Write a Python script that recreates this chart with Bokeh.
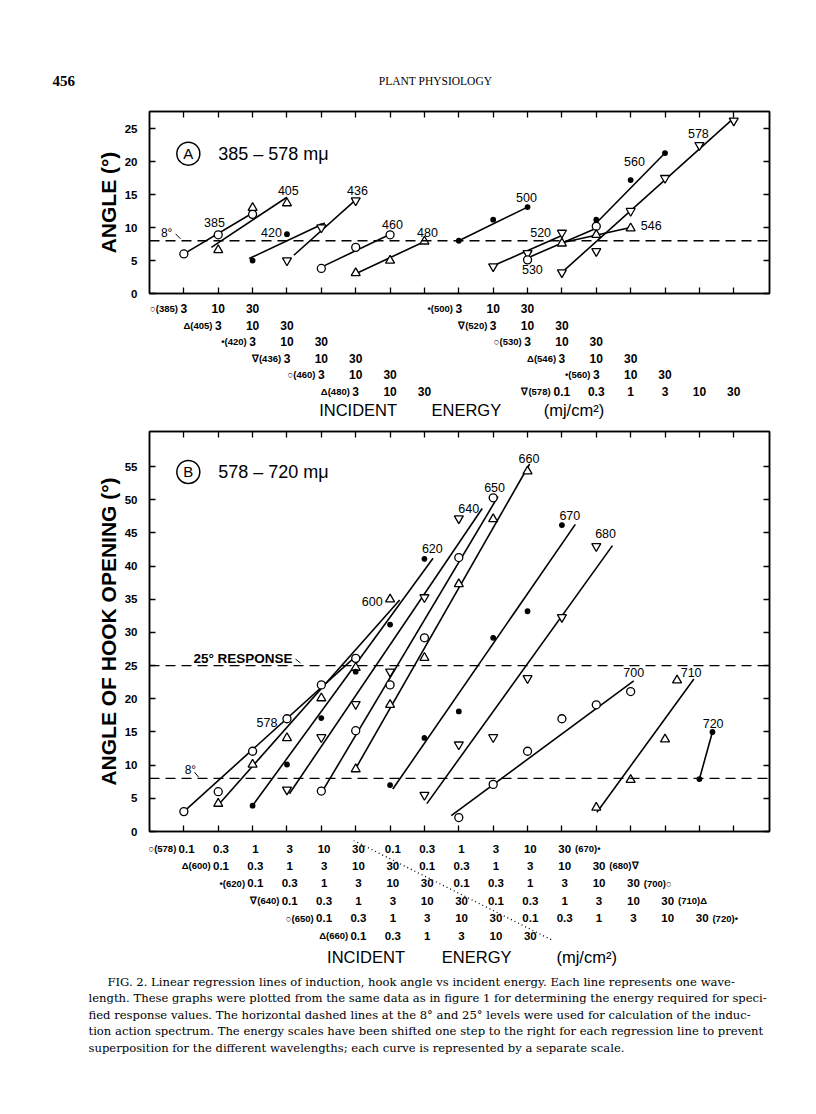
from bokeh.plotting import figure
from bokeh.models import Range1d, FixedTicker, LinearAxis, Span
from bokeh.layouts import column
from bokeh.embed import file_html
from bokeh.resources import INLINE
from bokeh.core.properties import value

SANS = "Liberation Sans"
SERIF = "DejaVu Serif"
INK = "black"

# ---------------- data ----------------
ENERGY_STEPS = ["0.1", "0.3", "1", "3", "10", "30"]
ENERGY_SHORT = ["3", "10", "30"]

# Panel A : 385-578 mμ   (x = position on the shifted energy scale, in scale steps)
A_WL = [385, 405, 420, 436, 460, 480, 500, 520, 530, 546, 560, 578]
A_MARK = ["o", "^", ".", "v", "o", "^", ".", "v", "o", "^", ".", "v"]
A_STEP = [[1, 2, 3], [2, 3, 4], [3, 4, 5], [4, 5, 6], [5, 6, 7], [6, 7, 8],
          [9, 10, 11], [10, 11, 12], [11, 13], [12, 13, 14], [13, 14, 15],
          [12, 13, 14, 15, 16, 17]]
A_ANGLE = [[6.0, 8.9, 12.0], [6.6, 13.0, 13.7], [5.0, 9.0, 10.2], [5.0, 10.0, 14.1],
           [3.8, 7.0, 8.9], [3.1, 5.0, 7.9], [8.0, 11.2, 13.1], [4.1, 6.1, 9.2],
           [5.1, 10.2], [7.6, 8.9, 9.9], [11.2, 17.2, 21.3],
           [3.2, 6.4, 12.5, 17.5, 22.5, 26.2]]
A_FIT_X0 = [1.0, 1.8, 2.9, 4.2, 5.0, 6.0, 9.0, 10.0, 11.0, 12.0, 13.0, 12.0]
A_FIT_Y0 = [6.0, 7.0, 5.3, 5.8, 4.0, 3.0, 8.0, 4.2, 5.4, 7.7, 10.7, 3.2]
A_FIT_X1 = [3.0, 4.0, 5.1, 6.0, 7.05, 8.05, 11.0, 12.0, 13.0, 14.0, 15.0, 17.0]
A_FIT_Y1 = [12.2, 14.6, 10.7, 14.2, 9.1, 8.0, 13.1, 8.8, 9.9, 10.0, 21.3, 26.6]
# energy scale rows under panel A
A_SCALE_SYM = ["○", "Δ", "•", "∇", "○", "Δ", "•", "∇", "○", "Δ", "•", "∇"]
A_SCALE_ROW = [0, 1, 2, 3, 4, 5, 0, 1, 2, 3, 4, 5]
A_SCALE_START = [1, 2, 3, 4, 5, 6, 9, 10, 11, 12, 13, 12]

# Panel B : 578-720 mμ
B_WL = [578, 600, 620, 640, 650, 660, 670, 680, 700, 710, 720]
B_MARK = ["o", "^", ".", "v", "o", "^", ".", "v", "o", "^", "."]
B_STEP = [[1, 2, 3, 4, 5, 6], [2, 3, 4, 5, 6, 7], [3, 4, 5, 6, 7, 8], [4, 5, 6, 7, 8, 9],
          [5, 6, 7, 8, 9, 10], [6, 7, 8, 9, 10, 11], [7, 8, 9, 10, 11, 12],
          [8, 9, 10, 11, 12, 13], [9, 10, 11, 12, 13, 14], [13, 14, 15, 15.35], [16, 16.38]]
B_ANGLE = [[3.0, 6.0, 12.1, 17.0, 22.1, 26.1], [4.2, 10.1, 14.1, 20.1, 24.7, 35.0],
           [3.9, 10.1, 17.1, 24.1, 31.2, 41.1], [6.3, 14.2, 19.2, 24.1, 35.3, 47.2],
           [6.1, 15.2, 22.1, 29.2, 41.3, 50.3], [9.4, 19.1, 26.2, 37.3, 47.1, 54.3],
           [7.0, 14.1, 18.1, 29.2, 33.2, 46.2], [5.5, 13.1, 14.2, 23.1, 32.3, 43.0],
           [2.1, 7.1, 12.1, 17.0, 19.1, 21.1], [3.6, 7.8, 13.9, 22.8], [7.9, 15.0]]
B_FIT_X0 = [1.0, 2.0, 3.0, 4.07, 5.08, 6.0, 7.08, 8.07, 8.78, 13.02, 16.0]
B_FIT_Y0 = [3.0, 4.0, 3.9, 5.7, 6.5, 9.5, 6.4, 4.2, 2.4, 2.9, 7.9]
B_FIT_X1 = [6.0, 7.28, 8.25, 9.68, 10.14, 11.06, 12.39, 13.47, 14.09, 15.84, 16.38]
B_FIT_Y1 = [26.4, 34.9, 41.2, 48.7, 50.5, 55.4, 46.3, 43.1, 22.7, 23.0, 15.0]
B_SCALE_SYM = ["○", "Δ", "•", "∇", "○", "Δ"]
B_SCALE_WL = [578, 600, 620, 640, 650, 660]
B_SCALE_START = [1, 2, 3, 4, 5, 6]
B_SCALE2_SYM = ["•", "∇", "○", "Δ", "•"]
B_SCALE2_WL = [670, 680, 700, 710, 720]

RESPONSE_LEVELS_A = [8]
RESPONSE_LEVELS_B = [8, 25]

CAPTION = [
    "FIG. 2. Linear regression lines of induction, hook angle vs incident energy. Each line represents one wave-",
    "length. These graphs were plotted from the same data as in figure 1 for determining the energy required for speci-",
    "fied response values. The horizontal dashed lines at the 8° and 25° levels were used for calculation of the induc-",
    "tion action spectrum. The energy scales have been shifted one step to the right for each regression line to prevent",
    "superposition for the different wavelengths; each curve is represented by a separate scale.",
]

# ---------------- layout constants ----------------
PAGE_W = 816
FRAME_L = 149
FRAME_W = 620
X_MAX = 18.04
PPU = FRAME_W / X_MAX
X_TICKS = list(range(1, 18))

A_LABEL_POS = {385: (1.89, 10.8), 405: (4.04, 15.6), 420: (3.55, 9.2), 436: (6.05, 15.6),
               460: (7.07, 10.5), 480: (8.09, 9.3), 500: (10.97, 14.6), 520: (11.38, 9.2),
               530: (11.14, 3.6), 546: (14.6, 10.3), 560: (14.11, 20.0), 578: (15.97, 24.3)}
B_LABEL_POS = {578: (3.42, 16.4), 600: (6.48, 34.6), 620: (8.23, 42.6), 640: (9.29, 48.7),
               650: (10.04, 51.9), 660: (11.04, 56.3), 670: (12.23, 47.6), 680: (13.27, 44.9),
               700: (14.09, 24.0), 710: (15.76, 23.9), 720: (16.4, 16.3)}

MARKERS = {"o": dict(marker="circle", size=8, fill_color="white"),
           "^": dict(marker="triangle", size=9, fill_color="white"),
           "v": dict(marker="inverted_triangle", size=9, fill_color="white"),
           ".": dict(marker="circle", size=4.5, fill_color="black")}


def txt(p, x, y, t, size, align="center", bold=False, font=SANS):
    p.text(x=x, y=y, text=t, text_font=value(font), text_font_size=size,
           text_font_style="bold" if bold else "normal", text_align=align,
           text_baseline="middle", text_color=INK)


def blank(height, xr, yr):
    p = figure(width=PAGE_W, height=height, x_range=xr, y_range=yr, min_border=0, title=None,
               x_axis_type=None, y_axis_type=None, toolbar_location=None,
               output_backend="svg", outline_line_color=None, frame_align=False)
    return p


def panel(height, b_top, b_bottom, y_top, yticks, ylabel):
    p = figure(width=PAGE_W, height=height, x_range=Range1d(0, X_MAX), y_range=Range1d(0, y_top),
               min_border_left=FRAME_L, min_border_right=PAGE_W - FRAME_L - FRAME_W,
               min_border_top=b_top, min_border_bottom=b_bottom, title=None,
               x_axis_type=None, y_axis_type=None, toolbar_location=None,
               output_backend="svg", outline_line_color=INK, outline_line_width=1.5,
               frame_align=False)
    common = dict(major_tick_in=6, major_tick_out=0, minor_tick_line_color=None,
                  axis_line_width=1.5, major_tick_line_width=1.3,
                  axis_line_color=INK, major_tick_line_color=INK)
    left = LinearAxis(ticker=FixedTicker(ticks=yticks), axis_label=ylabel,
                      axis_label_text_font=SANS, axis_label_text_font_size="21px",
                      axis_label_text_font_style="bold", axis_label_standoff=2,
                      axis_label_text_color=INK, major_label_text_color=INK,
                      major_label_text_font=SANS, major_label_text_font_size="11.5px",
                      major_label_text_font_style="bold", major_label_standoff=12, **common)
    p.add_layout(left, "left")
    right = LinearAxis(ticker=FixedTicker(ticks=yticks),
                       major_label_overrides={t: "" for t in yticks},
                       major_label_text_font_size="0px", major_label_standoff=0, **common)
    p.add_layout(right, "right")
    for loc in ("below", "above"):
        ax = LinearAxis(ticker=FixedTicker(ticks=X_TICKS),
                        major_label_overrides={t: "" for t in X_TICKS},
                        major_label_text_font_size="0px", major_label_standoff=0, **common)
        p.add_layout(ax, loc)
    return p


def draw_series(p, wls, marks, steps, angles, x0, y0, x1, y1, label_pos):
    p.segment(x0=x0, y0=y0, x1=x1, y1=y1, line_color=INK, line_width=1.6)
    for m, xs, ys in zip(marks, steps, angles):
        p.scatter(xs, ys, line_color=INK, line_width=1.3, **MARKERS[m])
    txt(p, [label_pos[w][0] for w in wls], [label_pos[w][1] for w in wls],
        [str(w) for w in wls], "12.5px")


def title_mark(p, x, y, letter, label):
    p.scatter([x], [y], marker="circle", size=23, fill_color=None, line_color=INK, line_width=1.5)
    txt(p, [x], [y], [letter], "15px")
    txt(p, [x + 0.87], [y], [label], "18px", align="left")


def small_arrow(p, xs, ys):
    p.line(xs, ys, line_color=INK, line_width=1)


# ---------------- header ----------------
hdr = blank(103, Range1d(0, PAGE_W), Range1d(103, 0))
txt(hdr, [52], [80], ["456"], "15px", align="left", bold=True, font="Liberation Serif")
txt(hdr, [435], [80], ["PLANT PHYSIOLOGY"], "11.5px", font="Liberation Serif")

# ---------------- panel A ----------------
pa = panel(197, 8, 7, 27.6, [0, 5, 10, 15, 20, 25], "ANGLE (°)")
for lvl in RESPONSE_LEVELS_A:
    pa.add_layout(Span(location=lvl, dimension="width", line_dash="10 6", line_width=1.3, line_color=INK))
draw_series(pa, A_WL, A_MARK, A_STEP, A_ANGLE, A_FIT_X0, A_FIT_Y0, A_FIT_X1, A_FIT_Y1, A_LABEL_POS)
title_mark(pa, 1.13, 21.2, "A", "385 – 578 mμ")
txt(pa, [0.5], [9.2], ["8°"], "12px")
small_arrow(pa, [0.76, 0.9], [9.05, 8.3])

# ---------------- energy rows A ----------------
ROW_A = 16.6
XR_ROWS = (-FRAME_L / PPU, (PAGE_W - FRAME_L) / PPU)
ra = blank(120, Range1d(*XR_ROWS), Range1d(-8 / ROW_A + 120 / ROW_A, -8 / ROW_A))
nx, ny, nt, px_, py_, pt = [], [], [], [], [], []
for sym, wl, row, st in zip(A_SCALE_SYM, A_WL, A_SCALE_ROW, A_SCALE_START):
    labels = ENERGY_STEPS if wl == 578 else ENERGY_SHORT
    for j, lab in enumerate(labels):
        nx.append(st + j); ny.append(row); nt.append(lab)
    px_.append(st - (0.33 if wl == 578 else 0.17)); py_.append(row); pt.append(f"{sym}({wl})")
txt(ra, nx, ny, nt, "12px", bold=True)
txt(ra, px_, py_, pt, "9.5px", align="right", bold=True)
txt(ra, [6.07, 9.22, 12.35], [6.14] * 3, ["INCIDENT", "ENERGY", "(mj/cm²)"], "16.5px")

# ---------------- panel B ----------------
pb = panel(420, 11, 9, 60.3, list(range(0, 60, 5)), "ANGLE OF HOOK OPENING (°)")
for lvl in RESPONSE_LEVELS_B:
    pb.add_layout(Span(location=lvl, dimension="width", line_dash="10 6", line_width=1.3, line_color=INK))
draw_series(pb, B_WL, B_MARK, B_STEP, B_ANGLE, B_FIT_X0, B_FIT_Y0, B_FIT_X1, B_FIT_Y1, B_LABEL_POS)
title_mark(pb, 1.13, 54.2, "B", "578 – 720 mμ")
txt(pb, [1.19], [9.3], ["8°"], "12px")
small_arrow(pb, [1.31, 1.43], [8.94, 8.19])
txt(pb, [2.72], [26.1], ["25° RESPONSE"], "13.5px", bold=True)
small_arrow(pb, [4.25, 4.39], [26.0, 25.4])

# ---------------- energy rows B ----------------
ROW_B = 17.4
rb = blank(128, Range1d(*XR_ROWS), Range1d(-8 / ROW_B + 128 / ROW_B, -8 / ROW_B))
nx, ny, nt, px_, py_, pt, sx, sy, stt = [], [], [], [], [], [], [], [], []
for row, (sym, wl, st) in enumerate(zip(B_SCALE_SYM, B_SCALE_WL, B_SCALE_START)):
    for j, lab in enumerate(ENERGY_STEPS):
        nx.append(st + j + 0.08); ny.append(row); nt.append(lab)
    px_.append(st - 0.22); py_.append(row); pt.append(f"{sym}({wl})")
for row, (sym, wl) in enumerate(zip(B_SCALE2_SYM, B_SCALE2_WL)):
    st = B_SCALE_START[row] + len(ENERGY_STEPS)
    for j, lab in enumerate(ENERGY_STEPS):
        nx.append(st + j + 0.08); ny.append(row); nt.append(lab)
    sx.append(st + len(ENERGY_STEPS) - 1 + 0.38); sy.append(row); stt.append(f"({wl}){sym}")
rb.line([5.94, 11.75], [-0.46, 5.3], line_dash="1 3", line_width=1.3, line_color=INK)
txt(rb, nx, ny, nt, "11.5px", bold=True)
txt(rb, px_, py_, pt, "9.5px", align="right", bold=True)
txt(rb, sx, sy, stt, "9.5px", align="left", bold=True)
txt(rb, [6.3, 9.52, 12.72], [6.26] * 3, ["INCIDENT", "ENERGY", "(mj/cm²)"], "16.5px")

# ---------------- caption ----------------
cap = blank(128, Range1d(0, PAGE_W), Range1d(128, 0))
txt(cap, [107, 88, 88, 88, 88], [13, 29.5, 46, 62.5, 79], CAPTION, "11.6px", align="left", font=SERIF)

layout = column(hdr, pa, ra, pb, rb, cap, spacing=0)
open("out.html", "w").write(file_html(layout, INLINE))
